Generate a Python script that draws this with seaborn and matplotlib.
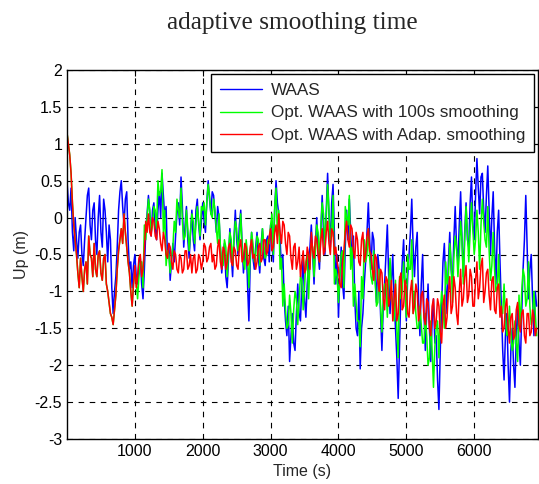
import matplotlib
matplotlib.use("Agg")
import matplotlib.pyplot as plt
import numpy as np
import pandas as pd
import seaborn as sns

STEP = 40  # seconds between samples

# values, one per 40 s from t = 0
WAAS = [
    0.5, 0.1, -0.2, 0.0, -0.55, -0.1, -0.65, 0.0, 0.4, -0.3,
    0.2, -0.5, 0.3, -0.4, 0.1, -0.6, -0.3, -1.3, -0.8, 0.1,
    0.5, -0.1, 0.35, -0.7, -0.95, -0.5, -0.9, -0.55, -1.1, -0.2,
    0.3, -0.25, 0.2, -0.3, 0.35, 0.6, 0.0, -0.55, -0.85, -0.35,
    -0.25, 0.2, 0.55, -0.4, 0.15, -0.55, 0.1, -0.45, 0.25, -0.3,
    0.2, -0.2, 0.5, 0.05, 0.3, -0.2, 0.0, -0.75, -0.35, -0.95,
    -0.15, -0.8, 0.1, -0.5, 0.1, -0.75, -0.35, -1.4, -0.2, -0.7,
    -0.2, -0.75, -0.15, -0.65, -0.25, -0.1, -0.6, 0.5, 0.05, -0.7,
    -1.1, -1.6, -1.95, -1.3, -1.8, -0.9, -1.4, -0.55, -1.35, -0.6,
    -0.1, -0.9, 0.0, -0.7, 0.3, -0.5, 0.6, -0.4, 0.45, -0.9,
    -1.35, -0.4, -1.1, 0.1, 0.25, -0.6, -1.1, -1.6, -2.05, -1.3,
    -0.6, 0.2, -0.7, -0.3, -1.15, -0.7, -1.8, -0.9, -0.1, -1.3,
    -0.5, -1.5, -2.45, -1.0, -0.3, -1.4, -0.5, 0.25, -0.8, -0.2,
    -1.6, -0.5, -1.8, -0.9, -1.95, -1.1, -1.6, -2.6, -1.2, -0.35,
    -1.3, -0.2, -0.9, 0.15, -0.6, 0.35, -0.8, 0.2, -0.4, 0.55,
    -0.3, 0.8, 0.05, 0.6, -0.2, 0.7, -0.5, 0.35, -0.9, 0.1,
    -1.2, -2.2, -1.3, -2.5, -1.5, -2.3, -1.2, -2.0, -0.7, 0.3,
    -1.1, -0.5, -1.6, -1.2,
]
# samples half way between the ones above (t = 20, 60, ...)
WAAS_MID = [
    0.2, 0.4, -0.45, -0.3, -0.2, -0.5, -0.3, 0.3, -0.1, 0.1,
    -0.3, 0.0, -0.2, 0.25, -0.2, -0.1, -0.95, -1.0, -0.4, 0.35,
    0.15, 0.25, -0.3, -0.6, -0.65, -0.8, -0.6, -0.9, -0.7, 0.05,
    0.05, 0.1, -0.15, 0.1, 0.0, 0.3, 0.15, -0.35, -0.6, -0.6,
    0.05, -0.1, 0.15, -0.1, -0.3, -0.2, -0.3, 0.1, -0.1, -0.05,
    -0.05, 0.2, 0.25, 0.35, 0.05, 0.15, -0.4, -0.5, -0.8, -0.55,
    -0.5, -0.3, -0.3, -0.1, -0.35, -0.45, -0.9, -0.6, -0.55, -0.4,
    -0.55, -0.35, -0.55, -0.3, -0.6, -0.35, 0.1, 0.2, -0.3, -0.5,
    -1.4, -1.2, -1.6, -1.7, -1.3, -1.3, -0.9, -1.1, -0.9, -0.4,
    -0.5, -0.35, -0.5, -0.2, -0.2, 0.1, 0.05, 0.2, -0.2, -0.5,
    -0.8, -0.9, -0.4, -0.3, -0.2, -0.25, -1.5, -1.0, -1.5, -0.9,
    -0.2, -0.3, -0.2, -0.8, -0.5, -1.3, -1.2, -0.5, -0.8, -0.9,
    -1.1, -1.9, -1.7, -0.6, -0.9, -0.8, -0.2, -0.4, -0.4, -1.1,
    -0.9, -1.3, -1.3, -1.5, -1.4, -1.7, -2.2, -1.8, -0.6, -0.9,
    -0.6, -0.7, -0.3, -0.4, -0.1, -0.3, -0.2, -0.3, 0.2, -0.1,
    0.3, 0.4, 0.55, 0.1, 0.3, 0.1, 0.0, -0.4, -0.2, -0.6,
    -1.8, -1.6, -2.0, -1.8, -2.0, -1.6, -1.7, -1.3, -0.3, -0.4,
    -0.7, -1.1, -1.0,
]

ADAPTIVE = [
    1.15, 0.85, 0.2, -0.3, -0.75, -0.55, -1.0, -0.6, -0.25, -0.55,
    -0.35, -0.8, -0.45, -0.85, -0.5, -1.0, -1.3, -1.45, -1.05, -0.45,
    -0.15, 0.05, -0.4, -0.75, -1.2, -0.65, -0.8, -0.5, -0.7, -0.05,
    0.05, -0.25, -0.05, -0.3, -0.15, -0.45, -0.3, -0.55, -0.4, -0.7,
    -0.5, -0.75, -0.55, -0.7, -0.45, -0.65, -0.75, -0.5, -0.7, -0.55,
    -0.6, -0.4, -0.55, -0.35, -0.5, -0.65, -0.3, -0.7, -0.45, -0.6,
    -0.35, -0.65, -0.45, -0.7, -0.3, -0.55, -0.4, -0.6, -0.3, -0.5,
    -0.6, -0.35, -0.55, -0.3, -0.45, -0.15, -0.4, -0.1, 0.05, -0.35,
    -0.1, -0.5, -0.25, -0.7, -0.35, -0.6, -0.8, -0.45, -0.7, -0.5,
    -0.2, -0.55, -0.3, -0.6, -0.15, -0.45, -0.05, -0.5, -0.2, -0.4,
    -0.7, -0.95, -0.45, -0.05, -0.4, -0.15, -0.55, -0.3, -0.65, -0.2,
    -0.5, -0.15, -0.5, -0.85, -0.55, -1.0, -0.75, -1.25, -0.85, -1.1,
    -1.4, -0.9, -1.3, -0.75, -1.2, -0.95, -1.35, -0.85, -1.2, -1.0,
    -1.3, -1.0, -1.45, -1.15, -1.6, -1.1, -1.4, -1.2, -1.7, -1.05,
    -1.35, -0.8, -1.2, -0.95, -1.45, -0.7, -1.1, -0.65, -1.05, -0.8,
    -1.2, -0.6, -0.95, -0.55, -1.0, -0.7, -1.25, -0.8, -1.3, -0.9,
    -1.2, -1.5, -1.1, -1.7, -1.3, -1.6, -1.15, -1.55, -1.25, -1.7,
    -1.3, -1.55, -1.35, -1.5,
]
ADAPTIVE_MID = [
    1.0, 0.6, -0.1, -0.5, -0.95, -0.8, -0.7, -0.9, -0.5, -0.8,
    -0.7, -0.5, -0.75, -0.55, -0.9, -1.15, -1.35, -1.25, -0.7, -0.3,
    -0.35, -0.2, -0.6, -1.0, -0.9, -0.95, -0.55, -0.8, -0.45, -0.2,
    -0.2, 0.0, -0.25, -0.05, -0.35, -0.2, -0.5, -0.35, -0.6, -0.45,
    -0.7, -0.5, -0.75, -0.45, -0.7, -0.5, -0.55, -0.75, -0.5, -0.7,
    -0.35, -0.6, -0.4, -0.6, -0.7, -0.4, -0.6, -0.4, -0.7, -0.4,
    -0.6, -0.4, -0.65, -0.4, -0.6, -0.35, -0.65, -0.4, -0.55, -0.7,
    -0.4, -0.6, -0.3, -0.5, -0.25, -0.45, -0.2, -0.35, -0.2, -0.05,
    -0.35, -0.2, -0.55, -0.4, -0.7, -0.4, -0.6, -0.75, -0.4, -0.7,
    -0.45, -0.25, -0.5, -0.3, -0.5, -0.2, -0.35, -0.15, -0.5, -0.6,
    -0.9, -0.6, -0.2, -0.3, -0.1, -0.45, -0.2, -0.6, -0.3, -0.6,
    -0.25, -0.45, -0.7, -0.5, -0.85, -0.7, -1.1, -0.8, -1.2, -0.85,
    -1.1, -1.4, -0.85, -1.25, -0.85, -1.3, -1.0, -1.3, -0.9, -1.4,
    -1.05, -1.35, -1.1, -1.5, -1.2, -1.5, -1.1, -1.55, -1.2, -1.5,
    -1.0, -1.3, -0.8, -1.3, -1.0, -1.2, -0.8, -1.15, -0.7, -1.2,
    -0.85, -1.1, -0.65, -1.15, -0.75, -1.05, -0.85, -1.25, -0.95, -1.35,
    -1.55, -1.2, -1.5, -1.35, -1.65, -1.25, -1.45, -1.3, -1.6, -1.3,
    -1.6, -1.25, -1.6,
]

# the 100 s smoothing run follows the adaptive one until ~1000 s
SMOOTH_100 = ADAPTIVE[:25] + [
    -0.75, -1.1, -0.6, -0.95, -0.3,
    0.25, -0.2, 0.15, -0.15, 0.3, 0.65, 0.1, -0.45, -0.75, -0.4,
    -0.2, 0.1, 0.4, -0.3, 0.1, -0.45, 0.05, -0.35, 0.15, -0.25,
    0.1, -0.1, 0.45, 0.05, 0.25, -0.15, 0.05, -0.6, -0.3, -0.8,
    -0.2, -0.65, -0.05, -0.45, 0.05, -0.6, -0.3, -0.95, -0.2, -0.6,
    -0.25, -0.65, -0.15, -0.55, -0.3, -0.1, -0.5, 0.4, 0.1, -0.55,
    -0.9, -1.5, -1.05, -1.7, -1.0, -1.45, -0.8, -1.25, -0.6, -1.1,
    -0.35, -0.8, -0.1, -0.6, 0.2, -0.4, 0.45, -0.3, 0.3, -0.7,
    -1.15, -0.5, -0.95, 0.0, 0.3, -0.4, -0.9, -1.4, -1.75, -1.1,
    -0.6, -0.15, -0.8, -0.45, -1.2, -0.7, -1.55, -0.9, -1.35, -0.55,
    -1.2, -0.85, -1.9, -1.1, -0.6, -1.35, -0.7, -0.3, -1.0, -1.5,
    -1.2, -1.7, -1.3, -2.0, -1.4, -2.3, -1.5, -1.9, -1.0, -1.5,
    -0.9, -0.35, -1.15, -0.25, -0.8, -0.05, -0.9, 0.15, -0.6, 0.2,
    -0.5, 0.1, -0.7, 0.25, -0.3, 0.15, -0.85, -0.2, -1.0, -0.5,
    -1.3, -0.9, -1.6, -1.2, -1.8, -1.4, -1.95, -1.5, -0.7, -1.2,
    -0.6, -1.45, -1.0, -1.6,
]
SMOOTH_100_MID = ADAPTIVE_MID[:25] + [
    -0.85, -0.8, -0.6, -0.1,
    0.0, 0.1, -0.1, 0.1, 0.5, 0.35, -0.2, -0.65, -0.5, -0.55,
    -0.05, 0.25, 0.0, -0.05, -0.25, -0.15, -0.2, -0.05, -0.1, -0.05,
    0.15, 0.2, 0.2, 0.3, 0.0, 0.1, -0.35, -0.4, -0.65, -0.4,
    -0.45, -0.3, -0.3, -0.15, -0.3, -0.4, -0.7, -0.5, -0.5, -0.35,
    -0.5, -0.3, -0.45, -0.35, -0.5, -0.35, 0.05, 0.15, -0.25, -0.7,
    -1.2, -1.25, -1.45, -1.3, -1.25, -1.1, -1.1, -0.85, -0.95, -0.5,
    -0.6, -0.4, -0.45, -0.2, -0.15, 0.05, 0.0, 0.1, -0.25, -0.9,
    -0.8, -0.8, -0.45, 0.15, -0.1, -0.7, -1.2, -1.15, -1.4, -0.8,
    -0.3, -0.5, -0.55, -0.9, -0.85, -1.15, -1.2, -1.1, -0.9, -0.9,
    -1.0, -1.4, -1.5, -0.8, -1.0, -0.95, -0.5, -0.7, -1.3, -1.3,
    -1.5, -1.45, -1.7, -1.6, -1.9, -1.8, -1.75, -1.4, -1.3, -1.2,
    -0.6, -0.8, -0.6, -0.55, -0.4, -0.5, -0.3, -0.3, -0.2, -0.2,
    -0.15, -0.3, -0.2, -0.1, -0.05, -0.4, -0.45, -0.65, -0.7, -0.95,
    -1.1, -1.3, -1.35, -1.55, -1.55, -1.7, -1.7, -1.05, -1.0, -0.8,
    -1.1, -1.2, -1.35,
]

SERIES = {
    "WAAS": (WAAS, WAAS_MID),
    "Opt. WAAS with 100s smoothing": (SMOOTH_100, SMOOTH_100_MID),
    "Opt. WAAS with Adap. smoothing": (ADAPTIVE, ADAPTIVE_MID),
}
COLORS = ["#0000ff", "#00ff00", "#ff0000"]

frames = []
for name, (grid_vals, mid_vals) in SERIES.items():
    part = pd.DataFrame({
        "time": np.concatenate([np.arange(len(grid_vals)) * STEP,
                                np.arange(len(mid_vals)) * STEP + STEP / 2]),
        "up": grid_vals + mid_vals,
    }).sort_values("time")
    part["series"] = name
    frames.append(part)
df = pd.concat(frames, ignore_index=True)

sns.set_style("white")
plt.rcParams["font.family"] = ["Liberation Sans", "DejaVu Sans"]
plt.rcParams["axes.unicode_minus"] = False

fig = plt.figure(figsize=(5.39, 4.84), dpi=100)
ax = fig.add_axes([67 / 539, 1 - 439 / 484, 471 / 539, 369 / 484])

sns.lineplot(
    data=df, x="time", y="up", hue="series",
    hue_order=list(SERIES.keys()), palette=COLORS,
    estimator=None, sort=False, linewidth=1.1, ax=ax,
)

ax.set_xlim(0, 6940)
ax.set_ylim(-3, 2)
ax.set_xticks([1000, 2000, 3000, 4000, 5000, 6000])
yticks = [2, 1.5, 1, 0.5, 0, -0.5, -1, -1.5, -2, -2.5, -3]
ax.set_yticks(yticks)
ax.set_yticklabels([f"{v:g}" for v in yticks])
ax.tick_params(direction="in", top=True, right=True, length=4,
               labelsize=11.5, colors="black")
ax.grid(True, color="black", linestyle=(0, (5, 5)), linewidth=0.8)
for spine in ax.spines.values():
    spine.set_color("black")
    spine.set_linewidth(1.0)

ax.set_xlabel("Time (s)", fontsize=11.5, labelpad=4)
ax.set_ylabel("Up (m)", fontsize=11.5, labelpad=4)

leg = ax.legend(loc="upper right", fontsize=12.3, frameon=True, fancybox=False,
                edgecolor="black", framealpha=1, handlelength=2.5,
                labelspacing=0.45, borderaxespad=0.25, borderpad=0.5,
                handletextpad=0.5)
leg.get_frame().set_linewidth(1.0)
for line in leg.get_lines():
    line.set_linewidth(1.0)

fig.text(292 / 539, 1 - 29 / 484, "adaptive smoothing time",
         ha="center", va="baseline", fontsize=18.3, family="Liberation Serif")

fig.savefig("out.png", dpi=100)
